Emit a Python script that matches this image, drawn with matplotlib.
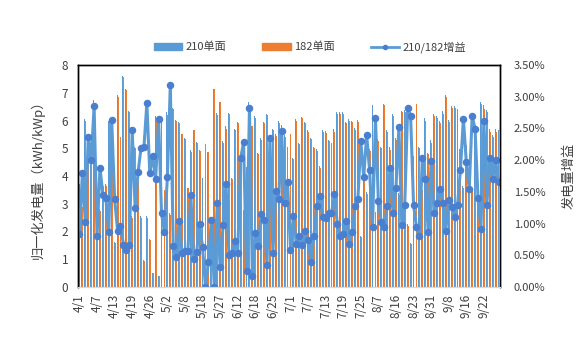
import numpy as np
import matplotlib
matplotlib.use('Agg')
import matplotlib.pyplot as plt
from matplotlib.patches import Patch
from matplotlib.lines import Line2D
from matplotlib.ticker import PercentFormatter

plt.rcParams['font.family'] = ['Noto Sans CJK SC', 'DejaVu Sans']

# 归一化发电量 (kWh/kWp)，182单面
gen_182 = [3.70, 2.90, 6.00, 5.40, 4.50, 6.55, 2.50, 2.75, 3.65, 3.65,
           5.95, 5.90, 1.60, 6.85, 5.40, 7.55, 7.10, 6.30, 2.50, 5.00,
           3.80, 2.50, 0.95, 2.50, 1.70, 0.50, 6.05, 0.40, 6.00, 3.50,
           6.20, 2.60, 6.40, 6.00, 5.90, 5.50, 5.35, 3.55, 4.85, 5.65,
           5.20, 4.90, 3.90, 5.15, 4.85, 2.50, 7.15, 6.20, 6.65, 5.20,
           5.70, 6.25, 3.90, 5.65, 5.90, 4.50, 2.70, 4.30, 6.50, 5.80,
           6.10, 4.80, 5.30, 5.90, 6.20, 4.00, 5.65, 5.45, 5.90, 5.70,
           5.40, 4.95, 5.50, 4.60, 6.00, 5.15, 6.10, 5.90, 5.60, 5.35,
           5.00, 4.90, 4.30, 5.60, 5.55, 5.25, 5.20, 5.60, 6.25, 6.25,
           6.25, 5.90, 6.00, 5.95, 5.65, 5.95, 1.80, 4.60, 3.35, 4.90,
           6.50, 2.70, 5.25, 5.00, 6.55, 5.60, 4.95, 6.15, 5.30, 3.30,
           6.30, 6.30, 2.20, 1.55, 4.65, 6.60, 5.00, 3.50, 6.00, 4.80,
           5.20, 6.15, 6.10, 5.90, 6.25, 6.85, 5.95, 6.45, 6.45, 6.35,
           4.90, 3.55, 5.10, 4.20, 3.45, 5.85, 3.50, 6.60, 6.40, 6.30,
           5.60, 5.40, 5.60, 5.55]

# 归一化发电量 (kWh/kWp)，210单面
gen_210 = [3.73, 2.95, 6.06, 5.53, 4.59, 6.74, 2.52, 2.80, 3.70, 3.70,
           6.00, 6.06, 1.62, 6.91, 5.45, 7.60, 7.14, 6.34, 2.56, 5.06,
           3.87, 2.55, 0.97, 2.57, 1.73, 0.51, 6.15, 0.41, 6.07, 3.53,
           6.31, 2.68, 6.44, 6.03, 5.96, 5.53, 5.38, 3.57, 4.92, 5.67,
           5.23, 4.95, 3.92, 5.15, 4.87, 2.53, 7.15, 6.28, 6.67, 5.25,
           5.79, 6.28, 3.92, 5.69, 5.93, 4.59, 2.76, 4.31, 6.68, 5.81,
           6.15, 4.83, 5.36, 5.96, 6.22, 4.09, 5.68, 5.53, 5.98, 5.84,
           5.47, 5.03, 5.53, 4.65, 6.04, 5.19, 6.14, 5.95, 5.64, 5.37,
           5.04, 4.96, 4.36, 5.66, 5.61, 5.31, 5.26, 5.68, 6.31, 6.30,
           6.30, 5.96, 6.04, 6.00, 5.72, 6.03, 1.84, 4.68, 3.43, 4.99,
           6.56, 2.77, 5.32, 5.05, 6.61, 5.67, 5.04, 6.22, 5.38, 3.38,
           6.36, 6.38, 2.26, 1.59, 4.71, 6.66, 5.04, 3.57, 6.10, 4.84,
           5.30, 6.22, 6.18, 5.99, 6.33, 6.91, 6.03, 6.53, 6.52, 6.43,
           4.99, 3.64, 5.20, 4.26, 3.54, 6.00, 3.55, 6.66, 6.57, 6.38,
           5.71, 5.49, 5.71, 5.64]

# 210/182增益 (%)
gain = [0.83, 1.80, 1.02, 2.36, 2.00, 2.85, 0.80, 1.88, 1.45, 1.40,
        0.86, 2.63, 1.39, 0.89, 0.96, 0.67, 0.58, 0.66, 2.47, 1.24,
        1.81, 2.19, 2.20, 2.90, 1.79, 2.07, 1.70, 2.65, 1.16, 0.86,
        1.73, 3.18, 0.64, 0.48, 1.04, 0.53, 0.56, 0.57, 1.45, 0.44,
        0.55, 0.99, 0.63, 0.00, 0.40, 1.06, 0.00, 1.32, 0.31, 0.97,
        1.62, 0.50, 0.53, 0.72, 0.53, 2.03, 2.28, 0.25, 2.82, 0.18,
        0.85, 0.64, 1.15, 1.05, 0.34, 2.35, 0.54, 1.51, 1.39, 2.46,
        1.33, 1.66, 0.59, 1.12, 0.68, 0.80, 0.67, 0.88, 0.74, 0.39,
        0.81, 1.27, 1.43, 1.10, 1.09, 1.16, 1.17, 1.46, 0.99, 0.81,
        0.84, 1.04, 0.68, 0.86, 1.27, 1.38, 2.30, 1.73, 2.40, 1.84,
        0.94, 2.66, 1.35, 1.02, 0.94, 1.27, 1.88, 1.16, 1.56, 2.52,
        0.97, 1.30, 2.82, 2.70, 1.30, 0.94, 0.81, 2.03, 1.71, 0.86,
        1.99, 1.16, 1.33, 1.54, 1.32, 0.89, 1.37, 1.26, 1.11, 1.29,
        1.85, 2.65, 1.97, 1.54, 2.70, 2.49, 1.40, 0.92, 2.62, 1.29,
        2.03, 1.70, 2.00, 1.65]

# 每6个日期标一个
date_ticks = ['4/1', '4/7', '4/13', '4/19', '4/26', '5/2', '5/8', '5/18',
              '5/27', '6/12', '6/18', '6/25', '7/1', '7/7', '7/13', '7/19',
              '7/25', '8/7', '8/16', '8/23', '8/31', '9/8', '9/16', '9/22']

blue = '#5B9BD5'
orange = '#ED7D31'
txt = '#404040'
x = np.arange(len(gain))
w = 0.32

fig, ax = plt.subplots(figsize=(5.87, 3.38), dpi=100)
fig.subplots_adjust(left=78/587, right=500/587, top=1-65/338, bottom=1-287/338)

ax.bar(x - w/2, gen_210, width=w, color=blue, linewidth=0)
ax.bar(x + w/2, gen_182, width=w, color=orange, linewidth=0)
ax.set_xlim(-0.5, len(gain) - 0.5)
ax.set_ylim(0, 8)
ax.set_yticks(range(0, 9))
ax.set_xticks(x[::6])
ax.set_xticklabels(date_ticks, rotation=90)
ax.tick_params(axis='both', length=0, labelsize=8.5, colors=txt)
ax.tick_params(axis='x', pad=5)
ax.tick_params(axis='y', pad=7)
ax.set_ylabel('归一化发电量（kWh/kWp）', fontsize=9.5, color=txt, labelpad=12)

ax2 = ax.twinx()
ax2.plot(x, np.array(gain) / 100, color=blue, linewidth=2.2, marker='o',
         markersize=4.4, markerfacecolor='#4A7FD0', markeredgecolor='#4A7FD0')
ax2.set_ylim(0, 0.035)
ax2.set_yticks(np.arange(0, 0.0351, 0.005))
ax2.yaxis.set_major_formatter(PercentFormatter(1.0, decimals=2))
ax2.tick_params(axis='y', length=0, labelsize=8, colors=txt, pad=10)
ax2.set_ylabel('发电量增益', fontsize=9.5, color=txt, labelpad=12)

for a in (ax, ax2):
    for s in ('left', 'right', 'top'):
        a.spines[s].set_color('black')
        a.spines[s].set_linewidth(1.0)
    a.spines['bottom'].set_color('#D9D9D9')

handles = [Patch(color=blue, label='210单面'),
           Patch(color=orange, label='182单面'),
           Line2D([], [], color=blue, linewidth=2.0, marker='o', markersize=3,
                  markerfacecolor='#4A7FD0', markeredgecolor='#4A7FD0',
                  label='210/182增益')]
fig.legend(handles=handles, loc='center', bbox_to_anchor=(310/587, 1-47/338),
           ncol=3, frameon=False, fontsize=8, handlelength=2.6, handleheight=0.55,
           columnspacing=3.2, handletextpad=0.3, labelcolor=txt)

plt.savefig('out.png', dpi=100)
